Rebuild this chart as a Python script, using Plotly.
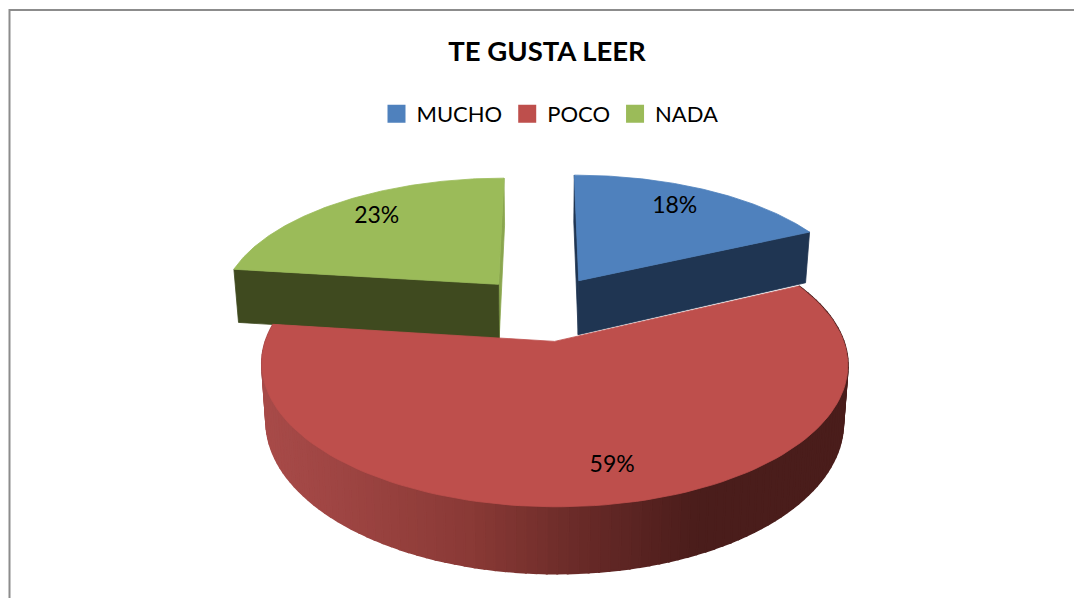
import numpy as np
import plotly.graph_objects as go

# ---- data ----
categories = ["MUCHO", "POCO", "NADA"]
values = [18, 59, 23]
title_text = "TE GUSTA LEER"

# ---- style ----
top_colors = ["#4F81BD", "#BE4F4C", "#9BBB59"]
wall_colors = ["#1F3552", "#4F1D1C", "#3F4A1F"]
lip_colors = ["#1F3552", "#4F1D1C", "#8AA64E"]
FONT = "Lato"
nudge_x = [3, 2.2, -2]
nudge_y = [0, 6, 1]
scale_x = [0.992, 0.98, 0.984]
wall_h = [1.0, 0.97, 1.0]
label_r = [0.80, 0.79, 0.80]
label_shift = [-2.4, -3.4, 2.4]      # degrees from the slice's middle
LABEL_DROP = 2.5

# ---- projection of the exploded disc onto the page ----
CX, CY, F, G, P, EXPLODE, H, SHRINK = 542, 305, 284.5, 129, 0.156, 0.23, 55.6, 0.015


def project(X, Y, k, depth=0.0):
    w = 1 / (1 + P * Y)
    x = CX + F * X * w * scale_x[k] + nudge_x[k]
    y = CY - G * Y * w + nudge_y[k]
    x = CX + (x - CX) * (1 - SHRINK * depth)
    y = y + H * wall_h[k] * w * depth
    return x, y


total = sum(values)
edges = np.concatenate([[0], np.cumsum(values)]) / total * 2 * np.pi


def disc(th, k, r=1.0):
    mid = (edges[k] + edges[k + 1]) / 2
    return r * np.sin(th) + EXPLODE * np.sin(mid), r * np.cos(th) + EXPLODE * np.cos(mid)


def poly(xs, ys, color, lw=0.8):
    return go.Scatter(x=list(xs) + [xs[0]], y=list(ys) + [ys[0]], mode="lines", fill="toself",
                      fillcolor=color, line=dict(color=color, width=lw), hoverinfo="skip",
                      showlegend=False)


def radial_wall(k, th, color):
    X, Y = disc(np.array([th, th]), k, np.array([0.0, 1.0]))
    x0, y0 = project(X, Y, k, 0)
    x1, y1 = project(X, Y, k, 1)
    return poly([x0[0], x0[1], x1[1], x1[0]], [y0[0], y0[1], y1[1], y1[0]], color)


def top_face(k):
    th = np.linspace(edges[k], edges[k + 1], 120)
    X, Y = disc(th, k)
    cX, cY = disc(np.array([0.0]), k, 0.0)
    X = np.concatenate([cX, X])
    Y = np.concatenate([cY, Y])
    x, y = project(X, Y, k)
    return poly(x, y, top_colors[k])


def wall_shade(x):
    stops_x = [262, 330, 470, 600, 700, 850]
    cols = np.array([[168, 75, 73], [160, 70, 68], [138, 58, 54], [100, 40, 38], [74, 29, 27], [74, 29, 27]])
    return "rgb(%d,%d,%d)" % tuple(np.interp(x, stops_x, cols[:, i]) for i in range(3))


fig = go.Figure()

# far slices first
for k in (0, 2):
    fig.add_trace(radial_wall(k, edges[k] if k == 0 else edges[k + 1], lip_colors[k]))
    fig.add_trace(radial_wall(k, edges[k + 1] if k == 0 else edges[k], wall_colors[k]))
    fig.add_trace(top_face(k))

# red outer wall, as strips so the shading runs left to right
th = np.linspace(edges[1], edges[2], 121)
X, Y = disc(th, 1)
xt, yt = project(X, Y, 1, 0)
xb, yb = project(X, Y, 1, 1)
for i in range(len(th) - 1):
    fig.add_trace(poly([xt[i], xt[i + 1], xb[i + 1], xb[i]], [yt[i], yt[i + 1], yb[i + 1], yb[i]],
                       wall_shade((xt[i] + xt[i + 1]) / 2), lw=2))
fig.add_trace(top_face(1))

# percentage labels
lx, ly, lt = [], [], []
for k in range(3):
    mid = (edges[k] + edges[k + 1]) / 2 + np.radians(label_shift[k])
    X, Y = disc(np.array([mid]), k, label_r[k])
    a, b = project(X, Y, k)
    lx.append(a[0]); ly.append(b[0] + LABEL_DROP); lt.append(f"{values[k] / total:.0%}")
fig.add_trace(go.Scatter(x=lx, y=ly, mode="text", text=lt, textposition="middle center",
                         textfont=dict(family=FONT, size=23, color="#000"), hoverinfo="skip", showlegend=False))

# legend entries
for k, name in enumerate(categories):
    fig.add_trace(go.Scatter(x=[None], y=[None], mode="markers", name=name,
                             marker=dict(symbol="square", size=16, color=top_colors[k],
                                         line=dict(color=top_colors[k], width=2))))

fig.update_layout(
    width=1074, height=598, margin=dict(l=0, r=0, t=0, b=0),
    paper_bgcolor="white", plot_bgcolor="white",
    title=dict(text=f"<b>{title_text}</b>", x=547 / 1074, xanchor="center", y=1 - 51 / 598, yanchor="middle",
               font=dict(family=FONT, size=27.5, color="#000")),
    legend=dict(orientation="h", x=550 / 1074, xanchor="center", y=1 - 114 / 598, yanchor="middle",
                font=dict(family=FONT, size=22, color="#000"), bgcolor="rgba(0,0,0,0)"),
    xaxis=dict(range=[0, 1074], visible=False, domain=[0, 1], fixedrange=True),
    yaxis=dict(range=[598, 0], visible=False, domain=[0, 1], fixedrange=True),
    shapes=[dict(type="rect", xref="x", yref="y", x0=9.5, y0=10, x1=1100, y1=620,
                 line=dict(color="#8C8C8C", width=2), layer="below")],
)
fig.write_html("out.html", config={"displayModeBar": False},
               post_script="document.body.style.margin='0';document.body.style.overflow='hidden';")
